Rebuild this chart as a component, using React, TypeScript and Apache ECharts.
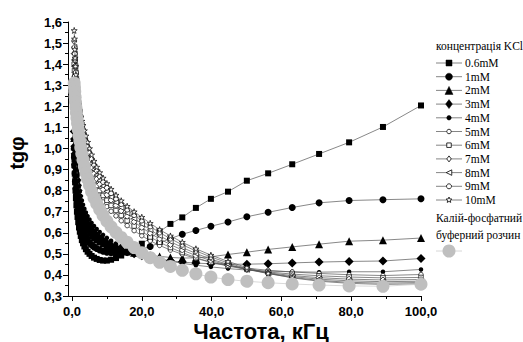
import React, { useEffect, useRef } from "react";
import * as echarts from "echarts";

// Frequency, kHz
const freq = [
  0.63, 0.71, 0.79, 0.89, 1.0, 1.12, 1.26, 1.41, 1.58, 1.78,
  2.0, 2.24, 2.51, 2.82, 3.16, 3.55, 3.98, 4.47, 5.01, 5.62,
  6.31, 7.08, 7.94, 8.91, 10.0, 11.2, 12.6, 14.1, 15.8, 17.8,
  20.0, 22.4, 25.1, 28.2, 31.6, 35.5, 39.8, 44.7, 50.1, 56.2,
  63.1, 70.8, 79.4, 89.1, 100.0,
];

const s06 = [
  0.96, 0.92, 0.88, 0.84, 0.8, 0.765, 0.73, 0.7, 0.675, 0.65,
  0.625, 0.605, 0.585, 0.565, 0.55, 0.535, 0.522, 0.51, 0.5, 0.49,
  0.482, 0.476, 0.471, 0.468, 0.468, 0.472, 0.48, 0.492, 0.507, 0.526,
  0.548, 0.575, 0.605, 0.642, 0.673, 0.718, 0.761, 0.795, 0.847, 0.882,
  0.925, 0.974, 1.029, 1.102, 1.204,
];
const s1 = [
  1.0, 0.96, 0.92, 0.88, 0.845, 0.81, 0.78, 0.75, 0.725, 0.7,
  0.68, 0.66, 0.64, 0.622, 0.605, 0.59, 0.576, 0.563, 0.552, 0.542,
  0.533, 0.525, 0.518, 0.512, 0.508, 0.505, 0.504, 0.505, 0.508, 0.514,
  0.523, 0.535, 0.552, 0.572, 0.593, 0.611, 0.631, 0.651, 0.676, 0.697,
  0.72, 0.742, 0.753, 0.757, 0.761,
];
const s2 = [
  1.05, 1.01, 0.975, 0.94, 0.905, 0.875, 0.845, 0.815, 0.79, 0.765,
  0.74, 0.72, 0.7, 0.68, 0.662, 0.645, 0.63, 0.615, 0.602, 0.59,
  0.578, 0.568, 0.558, 0.549, 0.541, 0.533, 0.526, 0.519, 0.512, 0.505,
  0.499, 0.493, 0.488, 0.483, 0.48, 0.481, 0.486, 0.497, 0.508, 0.521,
  0.533, 0.546, 0.56, 0.565, 0.575,
];
const s3 = [
  1.08, 1.045, 1.01, 0.975, 0.94, 0.91, 0.88, 0.85, 0.825, 0.8,
  0.775, 0.753, 0.732, 0.712, 0.693, 0.675, 0.658, 0.642, 0.627, 0.613,
  0.6, 0.587, 0.575, 0.563, 0.552, 0.541, 0.53, 0.52, 0.51, 0.5,
  0.491, 0.482, 0.474, 0.467, 0.461, 0.456, 0.453, 0.451, 0.451, 0.453,
  0.457, 0.461, 0.464, 0.466, 0.478,
];
const s4 = [
  1.13, 1.095, 1.06, 1.025, 0.99, 0.96, 0.93, 0.9, 0.87, 0.845,
  0.82, 0.796, 0.774, 0.753, 0.733, 0.714, 0.696, 0.679, 0.663, 0.647,
  0.632, 0.618, 0.604, 0.59, 0.576, 0.562, 0.549, 0.536, 0.523, 0.511,
  0.499, 0.487, 0.476, 0.465, 0.455, 0.446, 0.438, 0.43, 0.423, 0.418,
  0.415, 0.413, 0.415, 0.415, 0.426,
];
const s5 = [
  1.34, 1.31, 1.28, 1.25, 1.22, 1.19, 1.16, 1.13, 1.1, 1.075,
  1.05, 1.025, 1.0, 0.975, 0.95, 0.925, 0.9, 0.878, 0.856, 0.834,
  0.812, 0.79, 0.768, 0.746, 0.724, 0.702, 0.68, 0.657, 0.634, 0.61,
  0.586, 0.562, 0.54, 0.518, 0.498, 0.478, 0.46, 0.445, 0.432, 0.422,
  0.414, 0.407, 0.401, 0.397, 0.402,
];
const s6 = [
  1.4, 1.37, 1.34, 1.31, 1.28, 1.25, 1.22, 1.19, 1.16, 1.13,
  1.1, 1.073, 1.046, 1.02, 0.994, 0.968, 0.942, 0.918, 0.894, 0.87,
  0.847, 0.824, 0.8, 0.777, 0.754, 0.73, 0.706, 0.682, 0.657, 0.632,
  0.606, 0.58, 0.555, 0.53, 0.506, 0.482, 0.46, 0.442, 0.426, 0.414,
  0.404, 0.396, 0.39, 0.386, 0.388,
];
const s7 = [
  1.45, 1.42, 1.39, 1.36, 1.33, 1.3, 1.27, 1.24, 1.21, 1.18,
  1.15, 1.12, 1.092, 1.065, 1.038, 1.01, 0.984, 0.958, 0.932, 0.906,
  0.88, 0.855, 0.83, 0.805, 0.78, 0.755, 0.73, 0.704, 0.678, 0.652,
  0.625, 0.598, 0.571, 0.544, 0.518, 0.492, 0.468, 0.446, 0.426, 0.41,
  0.397, 0.387, 0.38, 0.376, 0.378,
];
const s8 = [
  1.48, 1.45, 1.42, 1.39, 1.36, 1.33, 1.3, 1.27, 1.24, 1.21,
  1.18, 1.15, 1.12, 1.092, 1.065, 1.037, 1.01, 0.982, 0.955, 0.928,
  0.9, 0.874, 0.848, 0.822, 0.796, 0.77, 0.745, 0.72, 0.694, 0.668,
  0.642, 0.614, 0.586, 0.558, 0.53, 0.502, 0.475, 0.45, 0.426, 0.407,
  0.392, 0.38, 0.372, 0.368, 0.37,
];
const s9 = [
  1.51, 1.48, 1.45, 1.42, 1.39, 1.36, 1.33, 1.3, 1.27, 1.24,
  1.21, 1.18, 1.15, 1.12, 1.09, 1.062, 1.034, 1.006, 0.978, 0.95,
  0.922, 0.895, 0.868, 0.841, 0.814, 0.788, 0.762, 0.736, 0.71, 0.684,
  0.658, 0.63, 0.601, 0.572, 0.543, 0.514, 0.485, 0.457, 0.43, 0.406,
  0.388, 0.374, 0.365, 0.361, 0.364,
];
const s10 = [
  1.56, 1.52, 1.47, 1.43, 1.39, 1.35, 1.31, 1.275, 1.245, 1.215,
  1.19, 1.17, 1.15, 1.13, 1.11, 1.085, 1.06, 1.03, 1.0, 0.97,
  0.94, 0.912, 0.886, 0.86, 0.834, 0.807, 0.779, 0.752, 0.726, 0.7,
  0.674, 0.645, 0.615, 0.585, 0.555, 0.524, 0.494, 0.464, 0.435, 0.408,
  0.386, 0.37, 0.36, 0.355, 0.358,
];
const sBuf = [
  1.31, 1.29, 1.27, 1.245, 1.22, 1.195, 1.17, 1.145, 1.12, 1.09,
  1.06, 1.035, 1.005, 0.975, 0.945, 0.915, 0.885, 0.855, 0.825, 0.795,
  0.765, 0.738, 0.71, 0.682, 0.655, 0.628, 0.602, 0.578, 0.555, 0.53,
  0.505, 0.482, 0.46, 0.44, 0.422, 0.405, 0.39, 0.378, 0.37, 0.363,
  0.357, 0.352, 0.348, 0.346, 0.356,
];

const seriesNames = ["0.6mM", "1mM", "2mM", "3mM", "4mM", "5mM", "6mM", "7mM", "8mM", "9mM", "10mM"];
const legendTitle = "концентрація KCl";
const bufferName = ["Калій-фосфатний", "буферний розчин"];
const xTitle = "Частота, кГц";
const yTitle = "tgφ";

const STAR = "path://M50,0 L61,35 L98,35 L68,57 L79,91 L50,70 L21,91 L32,57 L2,35 L39,35 Z";

type Mk = { symbol: string; size: number; open: boolean; rotate?: number };
const markers: Mk[] = [
  { symbol: "rect", size: 6, open: false },
  { symbol: "circle", size: 7, open: false },
  { symbol: "triangle", size: 8, open: false },
  { symbol: "diamond", size: 9, open: false },
  { symbol: "circle", size: 4.5, open: false },
  { symbol: "circle", size: 4.5, open: true },
  { symbol: "rect", size: 4.5, open: true },
  { symbol: "diamond", size: 6, open: true },
  { symbol: "triangle", size: 5.5, open: true, rotate: 90 },
  { symbol: "circle", size: 5, open: true },
  { symbol: STAR, size: 6, open: true },
];
const allValues = [s06, s1, s2, s3, s4, s5, s6, s7, s8, s9, s10];

const FONT_SANS = "'Liberation Sans', Arial, sans-serif";
const FONT_SERIF = "'Liberation Serif', 'Times New Roman', serif";

function legendMarker(i: number, cx: number, cy: number): any {
  const m = markers[i];
  const fill = m.open ? "#fff" : "#000";
  const style = { fill, stroke: "#000", lineWidth: m.open ? 0.8 : 0.5 };
  const r = m.size / 2;
  if (m.symbol === "rect") return { type: "rect", shape: { x: cx - r, y: cy - r, width: m.size, height: m.size }, style };
  if (m.symbol === "circle") return { type: "circle", shape: { cx, cy, r }, style };
  if (m.symbol === "diamond")
    return { type: "polygon", shape: { points: [[cx, cy - r], [cx + r * 0.75, cy], [cx, cy + r], [cx - r * 0.75, cy]] }, style };
  if (m.symbol === "triangle") {
    if (m.rotate) return { type: "polygon", shape: { points: [[cx - r, cy], [cx + r, cy - r], [cx + r, cy + r]] }, style };
    return { type: "polygon", shape: { points: [[cx, cy - r], [cx + r, cy + r], [cx - r, cy + r]] }, style };
  }
  const pts: number[][] = [];
  for (let k = 0; k < 10; k++) {
    const a = -Math.PI / 2 + (k * Math.PI) / 5;
    const rr = k % 2 === 0 ? r : r * 0.45;
    pts.push([cx + rr * Math.cos(a), cy + rr * Math.sin(a)]);
  }
  return { type: "polygon", shape: { points: pts }, style };
}

export default function App() {
  const ref = useRef<HTMLDivElement>(null);
  useEffect(() => {
    if (!ref.current) return;
    const chart = echarts.init(ref.current, null, { renderer: "svg" });

    const series: any[] = allValues.map((vals, i) => {
      const m = markers[i];
      return {
        name: seriesNames[i],
        type: "line",
        data: freq.map((f, k) => [f, vals[k]]),
        symbol: m.symbol,
        symbolSize: m.size,
        symbolRotate: m.rotate || 0,
        showAllSymbol: true,
        lineStyle: { color: "#555", width: 0.7 },
        itemStyle: {
          color: m.open ? "#fff" : "#000",
          borderColor: "#000",
          borderWidth: m.open ? 0.7 : 0,
        },
        z: 2 + i,
        silent: true,
      };
    });
    series.push({
      name: "buffer",
      type: "line",
      data: freq.map((f, k) => [f, sBuf[k]]),
      symbol: "circle",
      symbolSize: 13,
      showAllSymbol: true,
      lineStyle: { color: "#c8c8c8", width: 0.7 },
      itemStyle: { color: "#bfbfbf", borderWidth: 0 },
      z: 20,
      silent: true,
    });

    const legendEls: any[] = [];
    legendEls.push({
      type: "text",
      x: 436,
      y: 46,
      style: { text: legendTitle, font: `11.5px ${FONT_SERIF}`, fill: "#000", verticalAlign: "middle" },
    });
    const startY = 63;
    const step = 13.7;
    seriesNames.forEach((name, i) => {
      const y = startY + i * step;
      legendEls.push({ type: "line", shape: { x1: 436, y1: y, x2: 462, y2: y }, style: { stroke: "#666", lineWidth: 0.8 } });
      legendEls.push(legendMarker(i, 449, y));
      legendEls.push({
        type: "text",
        x: 465,
        y,
        style: { text: name, font: `11.5px ${FONT_SERIF}`, fill: "#000", verticalAlign: "middle" },
      });
    });
    legendEls.push({
      type: "text",
      x: 436,
      y: 218,
      style: { text: bufferName[0], font: `11.5px ${FONT_SERIF}`, fill: "#000", verticalAlign: "middle" },
    });
    legendEls.push({
      type: "text",
      x: 436,
      y: 235,
      style: { text: bufferName[1], font: `11.5px ${FONT_SERIF}`, fill: "#000", verticalAlign: "middle" },
    });
    legendEls.push({ type: "line", shape: { x1: 436, y1: 251, x2: 462, y2: 251 }, style: { stroke: "#ccc", lineWidth: 0.8 } });
    legendEls.push({ type: "circle", shape: { cx: 449, cy: 251, r: 6.5 }, style: { fill: "#bfbfbf" } });

    const fmt = (v: number) => v.toFixed(1).replace(".", ",");

    chart.setOption({
      animation: false,
      backgroundColor: "#fff",
      grid: { left: 72, right: 102, top: 22, bottom: 46, containLabel: false },
      xAxis: {
        type: "value",
        min: 0,
        max: 100,
        interval: 20,
        axisLine: { show: true, onZero: false, lineStyle: { color: "#000", width: 1 } },
        axisTick: { show: true, inside: false, length: 5, lineStyle: { color: "#000", width: 1 } },
        minorTick: { show: true, splitNumber: 2, length: 3, lineStyle: { color: "#000", width: 1 } },
        splitLine: { show: false },
        axisLabel: {
          formatter: fmt,
          color: "#000",
          fontFamily: FONT_SANS,
          fontWeight: "bold",
          fontSize: 13,
          margin: 9,
          showMaxLabel: true,
        },
      },
      yAxis: {
        type: "value",
        min: 0.3,
        max: 1.6,
        interval: 0.1,
        offset: 4,
        axisLine: { show: true, onZero: false, lineStyle: { color: "#000", width: 1 } },
        axisTick: { show: true, inside: false, length: 5, lineStyle: { color: "#000", width: 1 } },
        minorTick: { show: true, splitNumber: 2, length: 3, lineStyle: { color: "#000", width: 1 } },
        splitLine: { show: false },
        axisLabel: {
          formatter: fmt,
          color: "#000",
          fontFamily: FONT_SANS,
          fontWeight: "bold",
          fontSize: 13,
          margin: 6,
        },
      },
      series,
      graphic: [
        { type: "line", shape: { x1: 68, y1: 296.5, x2: 72, y2: 296.5 }, style: { stroke: "#000", lineWidth: 1 } },
        {
          type: "text",
          x: 261,
          y: 331,
          style: {
            text: xTitle,
            font: `bold 22px ${FONT_SANS}`,
            fill: "#000",
            align: "center",
            verticalAlign: "middle",
          },
        },
        {
          type: "text",
          x: 17,
          y: 153,
          rotation: Math.PI / 2,
          style: {
            text: yTitle,
            font: `bold 20px ${FONT_SANS}`,
            fill: "#000",
            align: "center",
            verticalAlign: "middle",
          },
        },
        ...legendEls,
      ],
    });
    return () => chart.dispose();
  }, []);

  return (
    <div
      ref={ref}
      style={{ position: "fixed", left: 0, top: 0, width: 523, height: 342, background: "#fff" }}
    />
  );
}
